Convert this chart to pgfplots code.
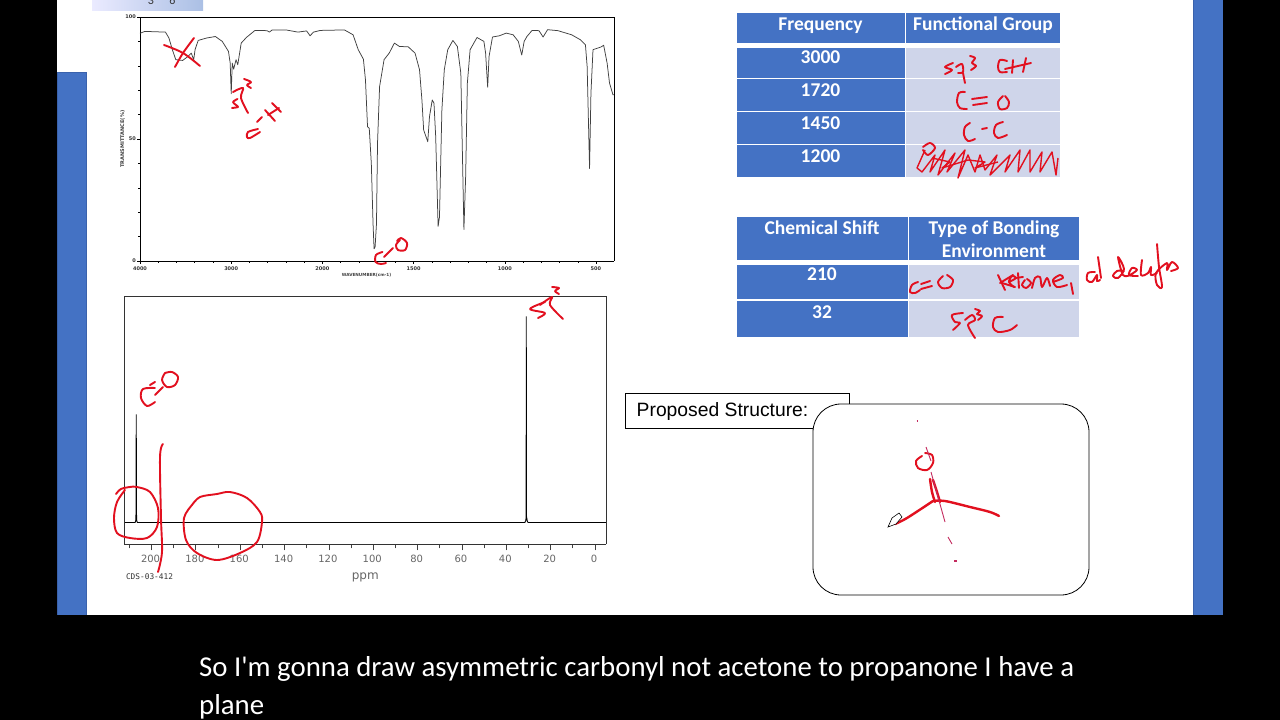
\documentclass[border=0pt]{standalone}
\usepackage{pgfplots}
\pgfplotsset{compat=1.18}
\usepackage{fontspec}
\setmainfont{Liberation Sans}
\newfontfamily\calf{Carlito}
\newfontfamily\djf{DejaVu Sans}
\newfontfamily\djmf{DejaVu Sans Mono}
\definecolor{pblue}{HTML}{4472C4}
\definecolor{pedge}{HTML}{3A62AC}
\definecolor{plight}{HTML}{CFD5EA}
\definecolor{inkred}{HTML}{E2101F}
\definecolor{inkpink}{HTML}{C42A5E}
\pgfplotsset{
  frame/.style={at={(0pt,0pt)},anchor=south west,scale only axis,width=1280pt,height=720pt,
    xmin=0,xmax=1280,ymin=0,ymax=720,y dir=reverse,axis lines=none,clip=true},
  ink/.style={color=inkred,line width=1.9pt,smooth,tension=0.55,line cap=round,line join=round},
  inkb/.style={ink,line width=2.4pt}
}
\newcommand{\rect}[5]{\addplot[fill=#5,draw=none] coordinates {(#1,#2) (#3,#2) (#3,#4) (#1,#4)} --cycle;}
\newcommand{\ink}[1]{\addplot[ink] coordinates {#1};}
\newcommand{\inkb}[1]{\addplot[inkb] coordinates {#1};}
\newcommand{\tcell}[4][19.5]{\node[text=white,anchor=base,inner sep=0pt] at (axis cs:#2,#3) {\fontsize{#1}{#1}\selectfont\calf\bfseries #4};}
\begin{document}
\begin{tikzpicture}[x=1pt,y=1pt]
\useasboundingbox (0,0) rectangle (1280,720);
\begin{axis}[frame]
\rect{0}{0}{1280}{720}{black}
\rect{57}{0}{1223}{615}{white}
\rect{57}{72}{87}{615}{pedge}
\rect{57.5}{73}{86}{615}{pblue}
\rect{1193}{0}{1223}{615}{pedge}
\rect{1194}{0}{1222.5}{615}{pblue}
\addplot[draw=none,left color=blue!8!white,right color=pblue!45!white] coordinates {(92,0) (203,0) (203,10) (92,10)} --cycle;
\node[anchor=base,inner sep=0pt,text=black!80] at (axis cs:151,5) {\fontsize{12}{12}\selectfont\calf 3};
\node[anchor=base,inner sep=0pt,text=black!80] at (axis cs:172.5,5) {\fontsize{12}{12}\selectfont\calf 6};
% table 1
\rect{737}{13}{904.5}{43}{pblue}\rect{906}{13}{1060}{43}{pblue}
\rect{737}{48}{904.5}{78}{pblue}\rect{906}{48}{1060}{78}{plight}
\rect{737}{79}{904.5}{110.5}{pblue}\rect{906}{79}{1060}{110.5}{plight}
\rect{737}{112}{904.5}{143.5}{pblue}\rect{906}{112}{1060}{143.5}{plight}
\rect{737}{145}{904.5}{177}{pblue}\rect{906}{145}{1060}{177}{plight}
\tcell{820.5}{30}{Frequency}
\tcell{983}{30}{Functional Group}
\tcell{820.5}{63}{3000}
\tcell{820.5}{96}{1720}
\tcell{820.5}{129}{1450}
\tcell{820.5}{162}{1200}
% table 2
\rect{737}{217}{907.5}{260}{pblue}\rect{909}{217}{1079}{260}{pblue}
\rect{737}{265}{907.5}{299}{pblue}\rect{909}{265}{1079}{299}{plight}
\rect{737}{301}{907.5}{337}{pblue}\rect{909}{301}{1079}{337}{plight}
\tcell{822}{234}{Chemical Shift}
\tcell{994}{234}{Type of Bonding}
\tcell{994}{257}{Environment}
\tcell{822}{280.5}{210}
\tcell{822}{318}{32}
% proposed structure
\addplot[fill=white,draw=black,line width=0.8pt] coordinates {(625,393) (849,393) (849,428) (625,428)} --cycle;
\node[anchor=base west,inner sep=0pt] at (axis cs:636.5,416) {\fontsize{19.3}{19.3}\selectfont Proposed Structure:};
\addplot[fill=white,draw=black,line width=0.8pt,rounded corners=28pt] coordinates {(813,404) (1089,404) (1089,595) (813,595)} --cycle;
% caption
\node[anchor=base west,inner sep=0pt,text=white] at (axis cs:199,676.5) {\fontsize{28.8}{28.8}\selectfont\calf So I'm gonna draw asymmetric carbonyl not acetone to propanone I have a};
\node[anchor=base west,inner sep=0pt,text=white] at (axis cs:199,714) {\fontsize{28.8}{28.8}\selectfont\calf plane};
\end{axis}

% IR spectrum
\begin{axis}[at={(140pt,459pt)},anchor=south west,scale only axis,width=474pt,height=244pt,
  xmin=146,xmax=1523,ymin=0,ymax=100,
  axis line style={black,line width=0.7pt},
  tick align=outside,tick style={black,line width=0.5pt},
  major tick length=3pt,minor tick length=1.8pt,
  xtick={146,411,676,941,1206,1470},
  xticklabels={4000,3000,2000,1500,1000,500},
  minor xtick={146,199,...,1523},
  ytick={0,50,100},
  minor ytick={10,20,...,90},
  axis x line*=bottom, axis y line*=left,
  /pgf/number format/assume math mode=true,
  tick label style={font=\fontsize{5}{5}\selectfont\djf\bfseries,text=black!80,inner sep=1pt},
  xticklabel style={yshift=-1.5pt},
  xlabel={WAVENUMBER(cm-1)},
  xlabel style={font=\fontsize{4.2}{4.2}\selectfont\djf\bfseries,text=black!75,at={(axis description cs:0.478,-0.058)},anchor=center},
  ylabel={TRANSMITTANCE(\%)},
  ylabel style={font=\fontsize{5}{5}\selectfont\djf\bfseries,text=black!75,at={(axis description cs:-0.037,0.5)},anchor=center,rotate=0},
  clip=false]
\addplot[black!75!white,line width=0.75pt,line join=round] table {
146 93.3
160 94.1
220 93.8
230 91.4
240 86.6
250 82.5
270 82.2
285 83.8
295 85.2
302 82.5
306 86.6
315 90.4
340 91.4
365 92
385 90
403 85.9
408 81.1
411 68.5
414 81.1
418 78.6
425 82.5
430 80.4
440 89.3
455 91.6
480 94.5
515 94.4
522 93.8
530 94.7
570 94.7
605 93.8
630 94.3
640 92.3
650 93.8
670 94.5
740 94.7
765 92.7
780 86.6
795 82.7
801 74.2
807 55
812 54.4
818 40
823 15.3
826 5
829 5.8
833 15.3
836 48.2
842 71.5
855 82.5
870 85.2
885 89.3
900 87.9
925 87.8
945 85.2
958 78.4
965 66
970 53.7
982 48.9
987 59.2
995 66
1000 64.7
1005 51
1012 14.2
1016 18
1023 61.9
1030 78.4
1040 86.6
1055 90.4
1068 87.9
1078 77
1083 41.4
1087 12.9
1092 34.5
1097 72.9
1105 86.6
1125 91.6
1145 90
1150 85.2
1156 71.2
1160 83.8
1170 91.8
1190 92.3
1210 93.4
1230 92.7
1245 90
1255 84.4
1262 90
1270 92
1285 94.5
1305 94.4
1317 91.8
1330 94.8
1360 94.4
1400 92.7
1425 90.7
1440 88.6
1445 79.7
1452 37.9
1456 68.8
1462 86.6
1485 87.7
1493 88.4
1503 81.1
1510 72.9
1520 68.1
1523 68.1
};
\draw[black,line width=0.7pt] (axis cs:146,100)--(axis cs:1523,100)--(axis cs:1523,0);
\end{axis}

% 13C NMR
\begin{axis}[at={(124.5pt,175.5pt)},anchor=south west,scale only axis,width=481.5pt,height=248pt,
  x dir=reverse,xmin=-4.96,xmax=212.2,ymin=-10.7,ymax=109.7,
  axis line style={black!80,line width=0.8pt},
  ytick=\empty,
  xtick={0,20,...,200},
  minor xtick={10,30,...,210},
  tick align=outside,tick style={black!75,line width=0.8pt},
  major tick length=6pt,minor tick length=4pt,
  /pgf/number format/assume math mode=true,
  xticklabel style={font=\fontsize{10}{10}\selectfont\djf,text=black!60,xshift=-1pt,yshift=-1pt},
  axis x line*=bottom,
  xlabel={ppm},
  xlabel style={font=\fontsize{12}{12}\selectfont\djf,text=black!60,at={(axis description cs:0.5,-0.133)},anchor=center},
  clip=false]
\addplot[black,line width=0.9pt,line join=miter,miter limit=1] coordinates {
(212.2,0) (207.4,0) (207.1,1) (207,5) (206.9,52.5) (206.8,5) (206.7,1) (206.4,0)
(31.6,0) (31.2,1) (31.05,3) (31,100) (30.9,3) (30.5,0.5) (30.2,0) (-4.96,0)};
\draw[black!80,line width=0.8pt] (axis cs:212.2,-10.7)--(axis cs:212.2,109.7)--(axis cs:-4.96,109.7)--(axis cs:-4.96,-10.7);
\end{axis}

% ink layer
\begin{axis}[frame]
\node[anchor=base,inner sep=0pt,text=black!80] at (axis cs:149.5,579.5) {\fontsize{7.8}{7.8}\selectfont\djmf CDS-03-412};
\ink{(164,45) (183,53) (200,66)}
\ink{(194,38) (183,53) (175,67)}
% sp3 C-H on IR
\ink{(237.5,99) (233,102) (236,105) (238,107) (232,108)}
\ink{(233,92) (243,88) (241,98) (248,113)}
\ink{(244,79) (251,82) (247,85) (251,88)}
\ink{(258,129) (248,132) (247,137) (250,138) (260,132)}
\ink{(257,122) (262,117)}
\ink{(265,110) (275,121)}
\ink{(272,103) (281,112)}
\ink{(268,115) (279,108)}
% C=O on IR
\ink{(382.5,252) (376,255) (375.6,262) (381,264) (386,263)}
\ink{(384,257) (393,248)}
\ink{(400,240) (396,245) (398,250) (405,250) (407,243) (401,238) (397,241)}
% sp3 on NMR
\ink{(545,302) (530,309) (545,313) (538,318)}
\ink{(540,305) (552,297) (550,305) (563,319)}
\ink{(552,287) (559,288) (555,291) (559,294)}
% C=O NMR
\ink{(155,388) (143,389) (141,398) (147,406) (155,402)}
\ink{(150,385) (155,382)}
\ink{(155,395) (163,387)}
\ink{(165,373) (162,380) (167,387) (175,385) (178,377) (172,372) (165,373)}
% circles
\ink{(116,494) (121,489) (130,487) (137,487) (150,492) (158,508) (157,527) (147,538) (130,538) (117,533) (114,518) (117,502) (125,490)}
\ink{(163,444) (160,457) (161,518) (162,552) (158,572)}
\ink{(192,505) (200,497) (217,494) (230,492) (247,498) (260,512) (262,522) (257,542) (240,553) (217,560) (197,553) (186,540) (184,518) (192,505)}
% table 1 ink
\ink{(953,63) (945,67) (952,70) (945,74)}
\ink{(956,67) (962,64) (963,72) (958,73)}
\ink{(963,73) (965,83)}
\ink{(970,56) (975,58) (972,63) (976,66) (971,70)}
\ink{(1007,61) (1000,60) (998,67) (1000,72) (1007,72)}
\ink{(1013,60) (1012,73)}
\ink{(1026,58) (1023,72)}
\ink{(1005,69) (1031,63)}
\ink{(965,92) (959,93) (957,102) (960,108) (967,109)}
\ink{(972,99) (987,97)}
\ink{(973,105) (987,103)}
\ink{(1003,96) (998,102) (1000,109) (1007,108) (1009,102) (1005,96)}
\ink{(970,123) (965,127) (964,135) (968,141) (975,139)}
\ink{(982,129) (987,128)}
\ink{(1003,122) (996,125) (994,133) (998,138) (1007,135)}
\ink{(923,147) (930,143) (935,148) (928,155) (923,150)}
\addplot[color=inkred,line width=1.4pt,line join=round] coordinates {(925,150) (917,168) (922,172) (935,155) (930,172) (945,150) (938,175) (955,153) (947,172) (965,150) (958,178) (968,155) (975,172) (980,155) (985,170) (997,155) (990,175) (1010,155) (1005,172) (1020,150) (1018,172) (1030,150) (1030,172) (1042,152) (1040,172) (1052,152) (1056,175) (1058,158)};
\addplot[color=inkred,line width=1.4pt,line join=round] coordinates {(932,158) (950,162) (942,168) (968,160) (985,162) (975,168) (998,162)};
% table 2 ink
\ink{(918,282) (912,285) (910,292) (915,293) (920,290)}
\ink{(921,284) (930,281)}
\ink{(921,289) (932,286)}
\ink{(943,276) (938,282) (942,288) (950,287) (953,280) (947,275)}
\ink{(998,275) (1005,290)}
\ink{(1000,283) (1013,275)}
\ink{(1002,283) (1015,287)}
\ink{(1009,282) (1016,278) (1012,276) (1009,282) (1014,287)}
\ink{(1018,273) (1019,288)}
\ink{(1015,278) (1023,277)}
\ink{(1025,280) (1022,285) (1026,288) (1031,283) (1027,279)}
\ink{(1032,288) (1035,278) (1040,277) (1042,287) (1047,278) (1050,286)}
\ink{(1053,282) (1063,278) (1060,275) (1053,280) (1057,287) (1067,285)}
\ink{(1071,283) (1073,294)}
\ink{(1095,272) (1088,273) (1087,280) (1092,282) (1097,275) (1097,281) (1100,280)}
\ink{(1098,257) (1101,278)}
\ink{(1124,271) (1117,271) (1113,276) (1118,278) (1124,269) (1118,257) (1123,275) (1130,275)}
\ink{(1130,275) (1137,270) (1132,268) (1129,275) (1138,276)}
\ink{(1142,260) (1141,275) (1148,273) (1151,267) (1151,275) (1157,273)}
\ink{(1157,244) (1159,267) (1162,287) (1157,285) (1156,273) (1167,263) (1167,270) (1172,262) (1178,268) (1171,271)}
\ink{(963,313) (952,315) (955,322) (960,323) (953,330)}
\ink{(965,320) (972,315) (975,320) (968,325) (975,338)}
\ink{(975,309) (980,311) (977,314) (982,316) (978,320)}
\ink{(1003,317) (995,318) (993,327) (998,332) (1010,330) (1017,325)}
% structure
\ink{(922,456) (916,461) (918,468) (927,470) (933,463) (932,455) (925,453)}
\inkb{(930,479) (932,492) (935,502)}
\inkb{(933,480) (937,492) (940,502)}
\inkb{(895,524) (907,518) (933,501)}
\inkb{(933,501) (945,501) (970,507) (990,512) (999,516)}
\addplot[color=inkpink,line width=0.9pt] coordinates {(926,447) (931,461)};
\addplot[color=inkpink,line width=0.9pt] coordinates {(931,472) (945,522)};
\addplot[color=inkpink,line width=0.9pt] coordinates {(948,537) (952,544)};
\addplot[color=inkpink,line width=1.2pt] coordinates {(916.5,421) (917.5,421)};
\addplot[color=inkpink,line width=1.6pt] coordinates {(954,561) (957,561)};
\addplot[fill=white,draw=black,line width=0.6pt] coordinates {(888,527) (892,518) (899,513) (902,517) (896,524)} --cycle;
\end{axis}
\end{tikzpicture}
\end{document}
